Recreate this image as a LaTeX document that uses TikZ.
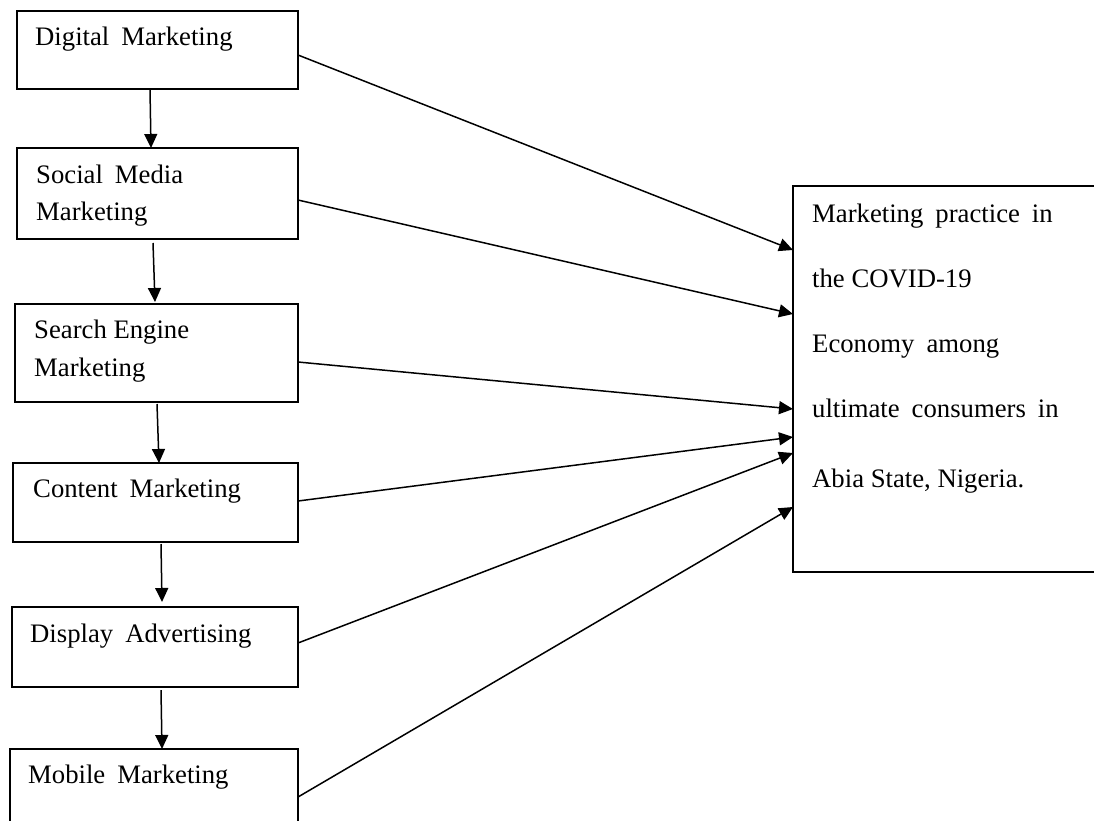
\documentclass[tikz,border=0pt]{standalone}
\usepackage{fontspec}
\setmainfont{Liberation Serif}
\usetikzlibrary{arrows.meta,calc}
\newcommand{\wsp}{\hspace{0.45em}}
\begin{document}
\begin{tikzpicture}[x=1pt,y=-1pt,
  box/.style={draw, line width=1.9pt, anchor=north west, inner sep=0pt, outer sep=0pt},
  lbl/.style={anchor=base west, inner sep=0pt, font=\fontsize{26.7}{37}\selectfont},
  conn/.style={line width=1.5pt, -{Triangle[length=14pt,width=13pt]}}]
\useasboundingbox (0,0) rectangle (1094,820);
\clip (0,0) rectangle (1094,820);
\fill[white] (0,0) rectangle (1094,820);
% left boxes
\node[box, minimum width=281pt, minimum height=78pt] (b1) at (17,11) {};
\node[box, minimum width=281pt, minimum height=91pt] (b2) at (17,148) {};
\node[box, minimum width=283pt, minimum height=98pt] (b3) at (15,304) {};
\node[box, minimum width=285pt, minimum height=79pt] (b4) at (13,463) {};
\node[box, minimum width=286pt, minimum height=80pt] (b5) at (12,607) {};
\node[box, minimum width=288pt, minimum height=90pt] (b6) at (10,749) {};
% right box
\node[box, minimum width=320pt, minimum height=386pt] (R) at (793,186) {};
% left texts
\node[lbl] (l1) at (35,45) {Digital\wsp Marketing};
\node[lbl] (l2a) at (36,183) {Social\wsp Media};
\node[lbl] (l2b) at (36,220) {Marketing};
\node[lbl] (l3a) at (34,338) {Search Engine};
\node[lbl] (l3b) at (34,376) {Marketing};
\node[lbl] (l4) at (33,497) {Content\wsp Marketing};
\node[lbl] (l5) at (30,642) {Display\wsp Advertising};
\node[lbl] (l6) at (28,783) {Mobile\wsp Marketing};
% right texts
\node[lbl] (r1) at (812,222) {Marketing\wsp practice\wsp in};
\node[lbl] (r2) at (812,287) {the COVID-19};
\node[lbl] (r3) at (812,352) {Economy\wsp among};
\node[lbl] (r4) at (812,417) {ultimate\wsp consumers\wsp in};
\node[lbl] (r5) at (812,487) {Abia State, Nigeria.};
% target points on right box
\coordinate (t1) at ($(R.north west)+(0,64)$);
\coordinate (t2) at ($(R.north west)+(0,128)$);
\coordinate (t3) at ($(R.north west)+(0,223)$);
\coordinate (t4) at ($(R.north west)+(0,251)$);
\coordinate (t5) at ($(R.north west)+(0,267)$);
\coordinate (t6) at ($(R.north west)+(0,321)$);
% connectors to right box
\draw[conn] ([yshift=-5pt]b1.east) -- (t1);
\draw[conn] ([yshift=-6.5pt]b2.east) -- (t2);
\draw[conn] ([yshift=-9pt]b3.east) -- (t3);
\draw[conn] ([yshift=1.5pt]b4.east) -- (t4);
\draw[conn] ([yshift=4pt]b5.east) -- (t5);
\draw[conn] ([yshift=-3pt]b6.east) -- (t6);
% vertical connectors
\draw[conn] ([xshift=-7.5pt]b1.south) -- ([xshift=-6.5pt]b2.north);
\draw[conn] ([xshift=-4.5pt,yshift=-4pt]b2.south) -- ([xshift=-1.5pt,yshift=2pt]b3.north);
\draw[conn] ([xshift=0.5pt,yshift=-2pt]b3.south) -- ([xshift=3.5pt]b4.north);
\draw[conn] ([xshift=5.5pt,yshift=-2pt]b4.south) -- ([xshift=7pt,yshift=5pt]b5.north);
\draw[conn] ([xshift=6pt,yshift=-3pt]b5.south) -- ([xshift=8pt]b6.north);
\end{tikzpicture}
\end{document}
